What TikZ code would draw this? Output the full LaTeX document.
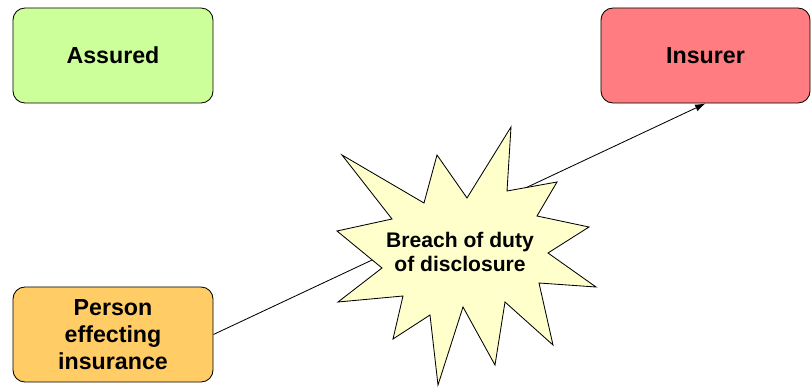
\documentclass[tikz,border=0pt]{standalone}
\usepackage{fontspec}
\setmainfont{Liberation Sans}
\usetikzlibrary{arrows.meta}

\begin{document}
\begin{tikzpicture}[
      x=0.025cm, y=-0.025cm,
      every node/.style={font=\bfseries\fontsize{16.5}{19}\selectfont},
      party/.style={rectangle, draw=black, line width=0.6pt, rounded corners=0.3cm, minimum width=5cm, minimum height=2.375cm, align=center, inner sep=2pt},
      assured/.style={party, fill=green!20!yellow!40},
      insurer/.style={party, fill=red!50, minimum width=5.225cm},
      person/.style={party, fill=orange!60!yellow!70},
      burst/.style={draw=black, line width=0.6pt, fill=yellow!20, line join=miter},
      link/.style={line width=0.6pt, -{Latex[length=2.6mm, width=1.8mm]}}
  ]
    \definecolor{assuredfill}{HTML}{CCFF99}
    \definecolor{insurerfill}{HTML}{FF7C80}
    \definecolor{personfill}{HTML}{FFCC66}
    \definecolor{burstfill}{HTML}{FFFFCC}
    \useasboundingbox (0,0) rectangle (811,387);

    \node[assured, fill=assuredfill] (assured) at (113,55.5) {Assured};
    \node[insurer, fill=insurerfill] (insurer) at (705.5,55.5) {Insurer};
    \node[person, fill=personfill] (person) at (113,334.5) {Person\\effecting\\insurance};

    % line runs under the burst
    \draw[link] (person.east) -- (insurer.south);

    \draw[burst, fill=burstfill] (511,127) -- (507,191) -- (557,182) -- (537,216) -- (589,227) -- (548,253)
      -- (596,287) -- (539,283) -- (553,345) -- (505,302) -- (495,365) -- (463,307)
      -- (438,385) -- (430,315) -- (393,339) -- (403,296) -- (338,302) -- (382,268)
      -- (337,231) -- (392,219) -- (342,155) -- (424,203) -- (437,155) -- (467,198) -- cycle;
    \node[align=center, font=\bfseries\fontsize{15}{17.5}\selectfont] (breach) at (460,252) {Breach of duty\\of disclosure};
  \end{tikzpicture}
\end{document}
